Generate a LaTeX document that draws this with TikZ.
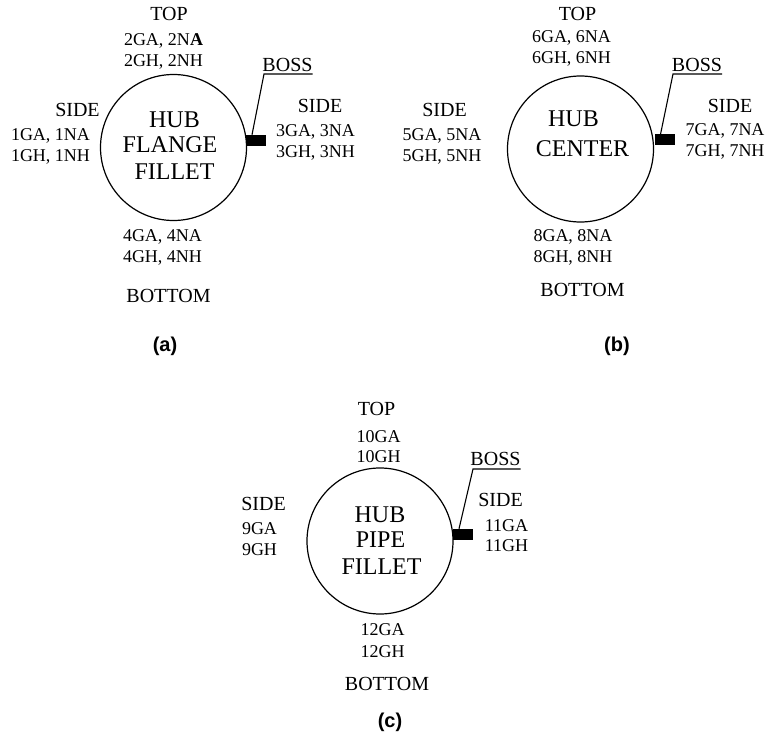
\documentclass[tikz,border=0pt]{standalone}
\usepackage{fontspec}
\setmainfont{Liberation Serif}
\setsansfont{Liberation Sans}

\tikzset{
  hub/.style={circle, draw, line width=1.2pt, minimum size=146pt, inner sep=0pt},
  bosspad/.style={fill=black, minimum width=20pt, minimum height=11pt, inner sep=0pt},
  leader/.style={line width=1.1pt},
  word/.style={font=\fontsize{20}{24}\selectfont, anchor=base, inner sep=0pt},
  code/.style={font=\fontsize{18}{21}\selectfont, anchor=base, inner sep=0pt},
  hubtext/.style={font=\fontsize{24}{26}\selectfont, anchor=base, inner sep=0pt},
  panel/.style={font=\sffamily\bfseries\fontsize{20}{24}\selectfont, anchor=base, inner sep=0pt}
}

\begin{document}
\begin{tikzpicture}[x=1pt, y=-1pt]
  \useasboundingbox (0,0) rectangle (766,746);

  % === (a) hub flange fillet ===
  \node[hub] (hubA) at (173.5,147.5) {};
  \node[hubtext] (hubA1) at (174.5,128) {HUB};
  \node[hubtext] (hubA2) at (170,153) {FLANGE};
  \node[hubtext] (hubA3) at (174.5,180) {FILLET};
  % top
  \node[word] (topA) at (169,21) {TOP};
  \node[code] (topA1) at (163.5,46) {2GA, 2N\textbf{A}};
  \node[code] (topA2) at (163.5,67) {2GH, 2NH};
  % left side
  \node[word] (leftA) at (77.5,117) {SIDE};
  \node[code] (leftA1) at (50.5,141) {1GA, 1NA};
  \node[code] (leftA2) at (50.5,162) {1GH, 1NH};
  % right side
  \node[word] (rightA) at (320,113) {SIDE};
  \node[code] (rightA1) at (315.5,137) {3GA, 3NA};
  \node[code] (rightA2) at (315.5,158) {3GH, 3NH};
  % bottom
  \node[code] (botA1) at (162.5,242) {4GA, 4NA};
  \node[code] (botA2) at (162.5,263) {4GH, 4NH};
  \node[word] (botA) at (168.5,302) {BOTTOM};
  % boss
  \node[bosspad] (bossA) at (256,140.5) {};
  \node[word] (bossAlbl) at (287.5,72) {BOSS};
  \coordinate (kneeA) at (264,74);
  \draw[leader] ([xshift=-4pt]bossA.north) -- (kneeA) -- (kneeA -| bossAlbl.east);
  \node[panel] (capA) at (165,351) {(a)};

  % === (b) hub center ===
  \node[hub] (hubB) at (580.5,149) {};
  \node[hubtext] (hubB1) at (573.5,127) {HUB};
  \node[hubtext] (hubB2) at (582.5,157) {CENTER};
  % top
  \node[word] (topB) at (577.5,21) {TOP};
  \node[code] (topB1) at (571.5,43) {6GA, 6NA};
  \node[code] (topB2) at (571.5,64) {6GH, 6NH};
  % left side
  \node[word] (leftB) at (444.5,117) {SIDE};
  \node[code] (leftB1) at (442,141) {5GA, 5NA};
  \node[code] (leftB2) at (442,162) {5GH, 5NH};
  % right side
  \node[word] (rightB) at (730,113) {SIDE};
  \node[code] (rightB1) at (725,136) {7GA, 7NA};
  \node[code] (rightB2) at (725,157) {7GH, 7NH};
  % bottom
  \node[code] (botB1) at (573,242) {8GA, 8NA};
  \node[code] (botB2) at (573,263) {8GH, 8NH};
  \node[word] (botB) at (582.5,297) {BOTTOM};
  % boss
  \node[bosspad] (bossB) at (664.5,140) {};
  \node[word] (bossBlbl) at (697,72) {BOSS};
  \coordinate (kneeB) at (673,74);
  \draw[leader] ([xshift=-4pt]bossB.north) -- (kneeB) -- (kneeB -| bossBlbl.east);
  \node[panel] (capB) at (617,351) {(b)};

  % === (c) hub pipe fillet ===
  \node[hub] (hubC) at (380,541) {};
  \node[hubtext] (hubC1) at (380,522) {HUB};
  \node[hubtext] (hubC2) at (380.5,547) {PIPE};
  \node[hubtext] (hubC3) at (381.5,574) {FILLET};
  % top
  \node[word] (topC) at (376.5,415) {TOP};
  \node[code] (topC1) at (378.5,442) {10GA};
  \node[code] (topC2) at (378.5,462) {10GH};
  % left side
  \node[word] (leftC) at (263.5,510) {SIDE};
  \node[code] (leftC1) at (259.5,534) {9GA};
  \node[code] (leftC2) at (259.5,555) {9GH};
  % right side
  \node[word] (rightC) at (500.5,506) {SIDE};
  \node[code] (rightC1) at (506.5,531) {11GA};
  \node[code] (rightC2) at (506.5,551) {11GH};
  % bottom
  \node[code] (botC1) at (382.5,635) {12GA};
  \node[code] (botC2) at (382.5,657) {12GH};
  \node[word] (botC) at (387,690) {BOTTOM};
  % boss
  \node[bosspad] (bossC) at (463,534.5) {};
  \node[word] (bossClbl) at (495.5,465) {BOSS};
  \coordinate (kneeC) at (473,469);
  \draw[leader] ([xshift=-4pt]bossC.north) -- (kneeC) -- (kneeC -| bossClbl.east);
  \node[panel] (capC) at (390,727) {(c)};

\end{tikzpicture}
\end{document}
